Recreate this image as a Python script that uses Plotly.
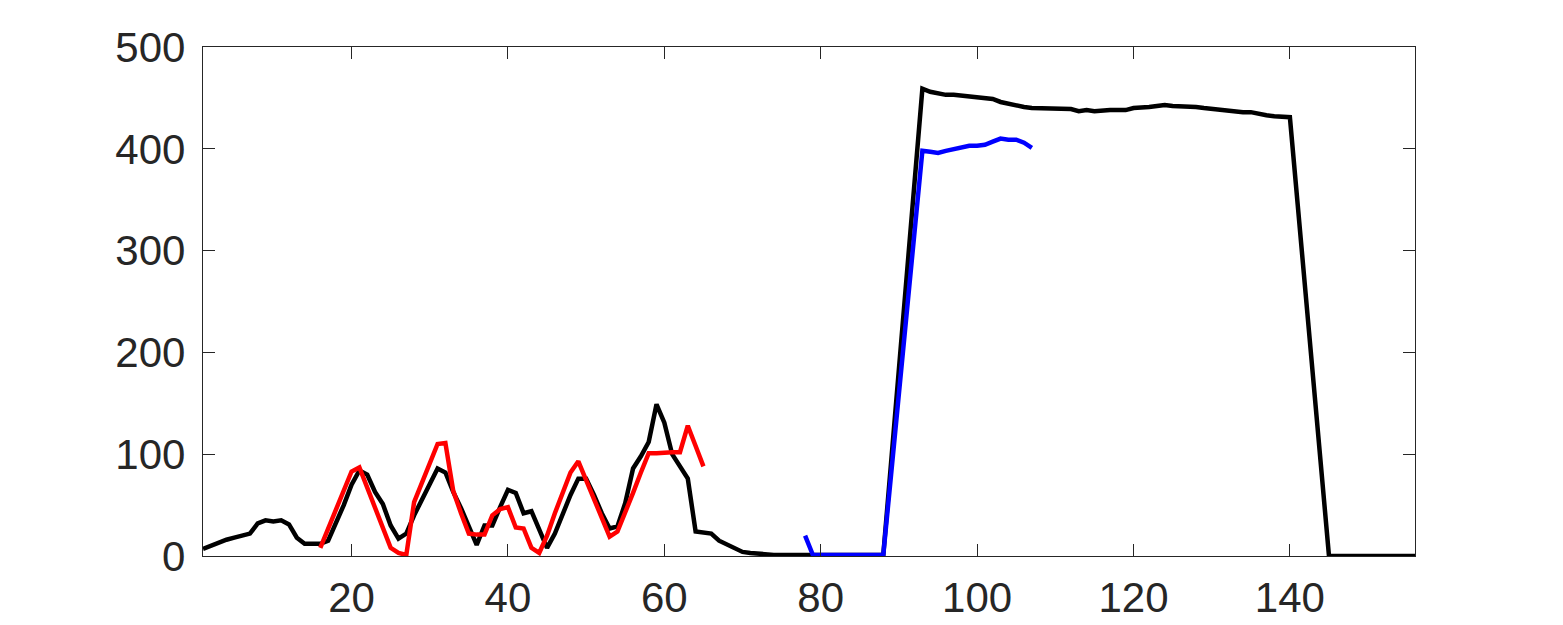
import plotly.graph_objects as go

# --- data ---
black_x = list(range(1, 157))
black_y = [
    7, 10, 14, 16, 18, 20, 22, 32, 35, 34,
    35, 31, 18, 12, 12, 12, 15, 32, 50, 70,
    84, 80, 63, 51, 30, 17, 22, 40, 55, 72,
    86, 82, 63, 47, 28, 11, 30, 30, 48, 65,
    62, 42, 44, 25, 8, 22, 42, 60, 76, 76,
    60, 42, 27, 29, 52, 86, 98, 112, 149, 131,
    100, 88, 76, 24, 23, 22, 15, 11, 7, 4,
    3, 2, 1, 1, 1, 1, 1, 1, 1, 1,
    1, 1, 1, 1, 1, 1, 1, 1, 92, 184,
    276, 367, 459, 456, 454, 453, 453, 452, 451, 451,
    450, 449, 446, 444, 442, 441, 440, 440, 440, 440,
    439, 439, 437, 438, 437, 438, 438, 438, 438, 440,
    440, 441, 442, 443, 442, 442, 441, 441, 440, 439,
    439, 438, 436, 436, 436, 434, 433, 432, 432, 431,
    345, 259, 172, 86, 0, 0, 0, 0, 0, 0,
    0, 0, 0, 0, 0, 0,
]

red_x = list(range(16, 66))
red_y = [
    8, 27, 46, 65, 83, 87, 67, 47, 27, 8,
    3, 1, 53, 72, 91, 110, 111, 64, 42, 22,
    21, 21, 40, 46, 48, 28, 27, 8, 3, 20,
    42, 62, 82, 93, 75, 57, 38, 19, 24, 42,
    62, 82, 101, 101, 102, 102, 102, 128, 108, 88,
]

blue_x = list(range(78, 108))
blue_y = [
    20, 1, 1, 1, 1, 1, 1, 1, 1, 1,
    1, 80, 160, 240, 318, 398, 397, 396, 398, 400,
    402, 403, 403, 404, 407, 410, 409, 409, 406, 401,
]

x_ticks = [20, 40, 60, 80, 100, 120, 140]
y_ticks = [0, 100, 200, 300, 400, 500]

fig = go.Figure()
fig.add_trace(go.Scatter(x=black_x, y=black_y, mode='lines',
                         line=dict(color='#000000', width=4.5)))
fig.add_trace(go.Scatter(x=red_x, y=red_y, mode='lines',
                         line=dict(color='#FF0000', width=4.5)))
fig.add_trace(go.Scatter(x=blue_x, y=blue_y, mode='lines',
                         line=dict(color='#0000FF', width=4.5)))

axis_style = dict(
    showgrid=False, zeroline=False, automargin=False,
    showline=True, linecolor='#262626', linewidth=1.3, mirror='ticks',
    ticks='inside', ticklen=12, tickwidth=1.3, tickcolor='#262626',
    tickfont=dict(family='Liberation Sans, Arial, sans-serif', size=42, color='#262626'),
)

fig.update_layout(
    width=1563, height=625,
    margin=dict(l=195, r=156, t=39, b=77, pad=0),
    plot_bgcolor='white', paper_bgcolor='white',
    showlegend=False,
    xaxis=dict(range=[1, 156], tickvals=x_ticks, ticklabelstandoff=4, **axis_style),
    yaxis=dict(range=[0, 500], tickvals=y_ticks, ticklabelstandoff=8, **axis_style),
)

fig.write_html("out.html")
